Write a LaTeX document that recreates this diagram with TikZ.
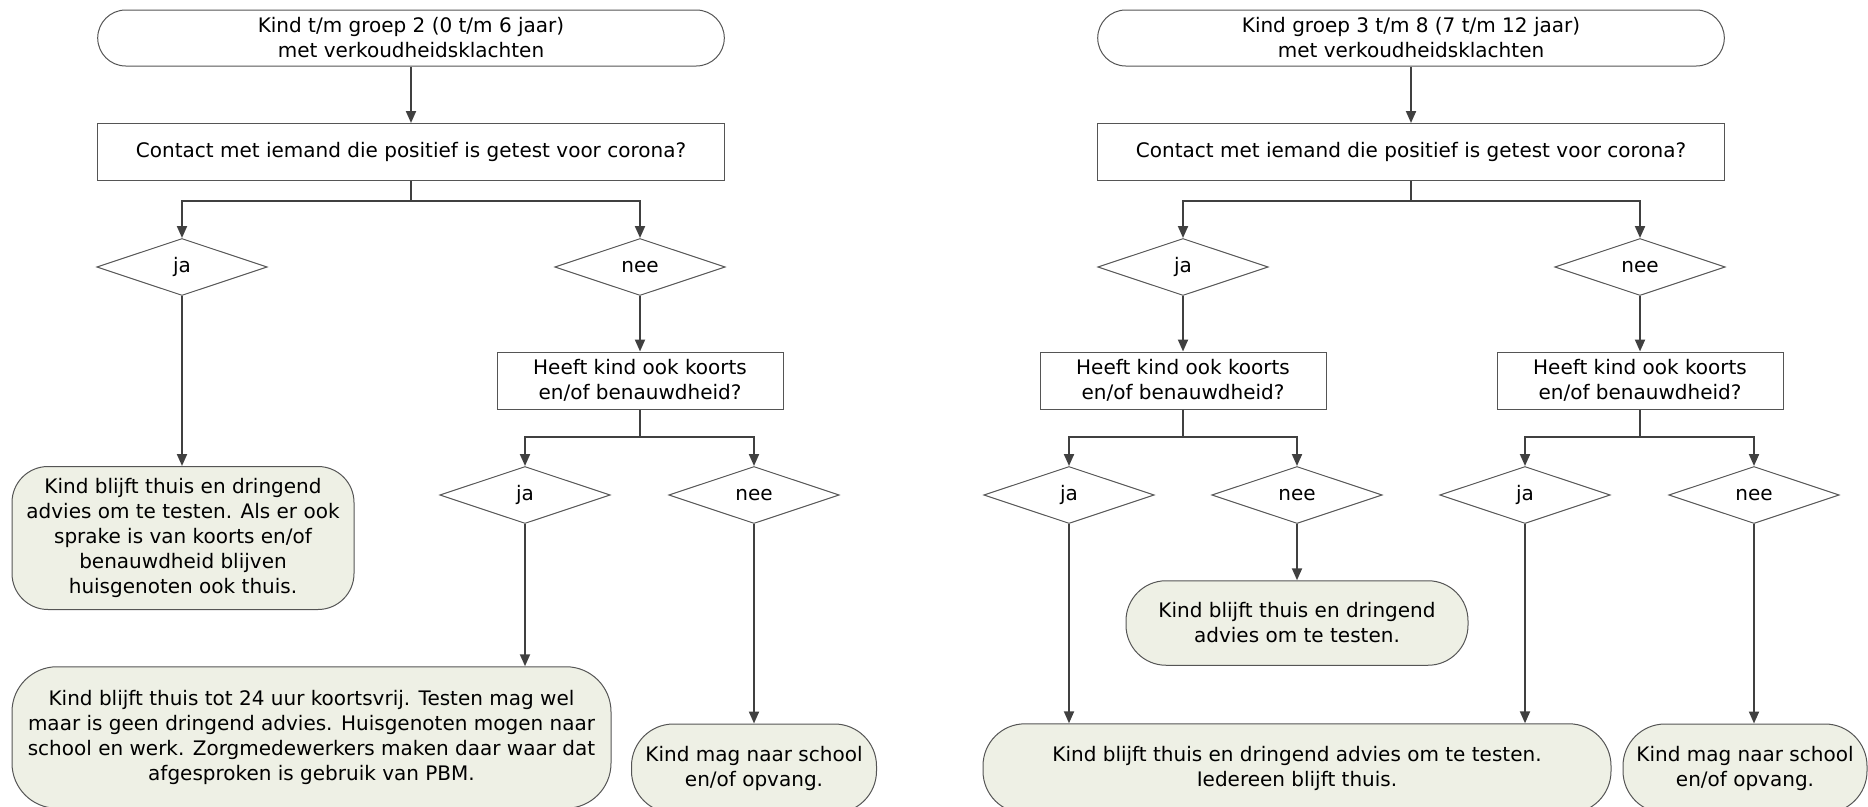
\documentclass[tikz,border=0pt]{standalone}
\usepackage{fontspec}
\setmainfont{DejaVu Sans}
\usetikzlibrary{shapes.geometric,arrows.meta}
\definecolor{resfill}{RGB}{238,240,229}
\definecolor{edge}{RGB}{85,85,85}
\definecolor{conn}{RGB}{64,64,64}
\tikzset{
  every node/.style={font=\fontsize{20}{25}\selectfont, align=center, inner sep=0pt},
  startbox/.style={draw=edge, line width=1pt, rounded corners=28pt, minimum width=626.6pt, minimum height=56pt, fill=white},
  qbox/.style={draw=edge, line width=1pt, minimum height=57pt, fill=white},
  dia/.style={draw=edge, line width=1pt, diamond, aspect=3, minimum width=170.4pt, minimum height=57pt},
  resbox/.style={draw=edge, line width=1pt, fill=resfill},
  conline/.style={draw=conn, line width=2pt},
  arr/.style={conline, -{Triangle[length=12pt,width=10pt]}}
}
\begin{document}
\begin{tikzpicture}[x=1pt,y=-1pt]
\useasboundingbox (0,0) rectangle (1868,806);
% ---------------- left column ----------------
\node[startbox] (sL) at (411,38) {Kind t/m groep 2 (0 t/m 6 jaar)\\met verkoudheidsklachten};
\node[qbox, minimum width=626.6pt] (qL) at (411,152) {Contact met iemand die positief is getest voor corona?};
\coordinate (jL) at (411,201);
\node[dia] (djaL) at (182,267) {ja};
\node[dia] (dneeL) at (640,267) {nee};
\node[qbox, minimum width=286pt] (q2L) at (640,380.5) {Heeft kind ook koorts\\en/of benauwdheid?};
\coordinate (j2L) at (640,437);
\node[dia] (dja2L) at (525,495) {ja};
\node[dia] (dnee2L) at (754,495) {nee};
\node[resbox, rounded corners=36pt, minimum width=342pt, minimum height=143pt] (rL1) at (183,538)
  {Kind blijft thuis en dringend\\advies om te testen. Als er ook\\sprake is van koorts en/of\\benauwdheid blijven\\huisgenoten ook thuis.};
\node[resbox, rounded corners=45pt, minimum width=599pt, minimum height=141.5pt] (rL2) at (311.5,737.5)
  {Kind blijft thuis tot 24 uur koortsvrij. Testen mag wel\\maar is geen dringend advies. Huisgenoten mogen naar\\school en werk. Zorgmedewerkers maken daar waar dat\\afgesproken is gebruik van PBM.};
\node[resbox, rounded corners=42pt, minimum width=245pt, minimum height=89pt] (rL3) at (754,768.5)
  {Kind mag naar school\\en/of opvang.};
\draw[arr] (sL) -- (qL);
\draw[conline] (qL.south) -- (jL);
\draw[arr] (jL) -| (djaL.north);
\draw[arr] (jL) -| (dneeL.north);
\draw[arr] (djaL.south) -- (djaL.south |- rL1.north);
\draw[arr] (dneeL.south) -- (q2L.north);
\draw[conline] (q2L.south) -- (j2L);
\draw[arr] (j2L) -| (dja2L.north);
\draw[arr] (j2L) -| (dnee2L.north);
\draw[arr] (dja2L.south) -- (dja2L.south |- rL2.north);
\draw[arr] (dnee2L.south) -- (dnee2L.south |- rL3.north);
% ---------------- right column ----------------
\node[startbox] (sR) at (1411,38) {Kind groep 3 t/m 8 (7 t/m 12 jaar)\\met verkoudheidsklachten};
\node[qbox, minimum width=626.6pt] (qR) at (1411,152) {Contact met iemand die positief is getest voor corona?};
\coordinate (jR) at (1411,201);
\node[dia] (djaR) at (1183,267) {ja};
\node[dia] (dneeR) at (1640,267) {nee};
\node[qbox, minimum width=286pt] (q2a) at (1183,380.5) {Heeft kind ook koorts\\en/of benauwdheid?};
\node[qbox, minimum width=286pt] (q2b) at (1640,380.5) {Heeft kind ook koorts\\en/of benauwdheid?};
\coordinate (j2a) at (1183,437);
\coordinate (j2b) at (1640,437);
\node[dia] (dja2a) at (1069,495) {ja};
\node[dia] (dnee2a) at (1297,495) {nee};
\node[dia] (dja2b) at (1525,495) {ja};
\node[dia] (dnee2b) at (1754,495) {nee};
\node[resbox, rounded corners=40pt, minimum width=342pt, minimum height=84.5pt] (rMid) at (1297,623)
  {Kind blijft thuis en dringend\\advies om te testen.};
\node[resbox, rounded corners=42pt, minimum width=628pt, minimum height=89.4pt] (rBig) at (1297,768.5)
  {Kind blijft thuis en dringend advies om te testen.\\Iedereen blijft thuis.};
\node[resbox, rounded corners=42pt, minimum width=244pt, minimum height=89pt] (rSch) at (1745,768.5)
  {Kind mag naar school\\en/of opvang.};
\draw[arr] (sR) -- (qR);
\draw[conline] (qR.south) -- (jR);
\draw[arr] (jR) -| (djaR.north);
\draw[arr] (jR) -| (dneeR.north);
\draw[arr] (djaR.south) -- (q2a.north);
\draw[arr] (dneeR.south) -- (q2b.north);
\draw[conline] (q2a.south) -- (j2a);
\draw[arr] (j2a) -| (dja2a.north);
\draw[arr] (j2a) -| (dnee2a.north);
\draw[conline] (q2b.south) -- (j2b);
\draw[arr] (j2b) -| (dja2b.north);
\draw[arr] (j2b) -| (dnee2b.north);
\draw[arr] (dja2a.south) -- (dja2a.south |- rBig.north);
\draw[arr] (dnee2a.south) -- (dnee2a.south |- rMid.north);
\draw[arr] (dja2b.south) -- (dja2b.south |- rBig.north);
\draw[arr] (dnee2b.south) -- (dnee2b.south |- rSch.north);
\end{tikzpicture}
\end{document}
